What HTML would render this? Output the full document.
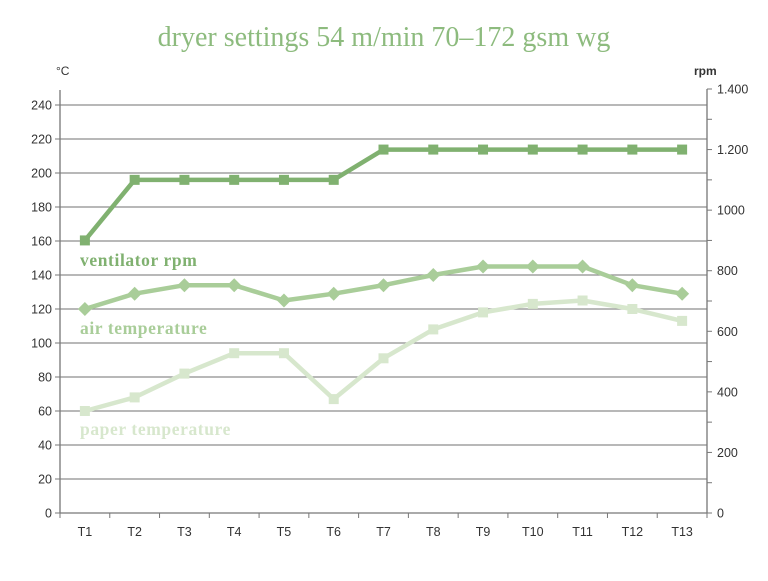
<!DOCTYPE html>
<html><head><meta charset="utf-8"><style>
body{margin:0;background:#fff;width:768px;height:576px;overflow:hidden}
svg text{font-family:"Liberation Sans",sans-serif}
</style></head><body>
<svg id="c" width="768" height="576">
<text x="384" y="46" text-anchor="middle" font-size="28" letter-spacing="0" fill="#8dbb7e" style="font-family:'Liberation Serif',serif">dryer settings 54 m/min 70–172 gsm wg</text>
<text x="56" y="75" font-size="12" fill="#333">°C</text>
<text x="694" y="75" font-size="12" font-weight="bold" fill="#333">rpm</text>
<g id="g"></g>
</svg>
<script>
const categories=["T1","T2","T3","T4","T5","T6","T7","T8","T9","T10","T11","T12","T13"];
const ventilatorRpm=[900,1100,1100,1100,1100,1100,1200,1200,1200,1200,1200,1200,1200];
const airTemp=[120,129,134,134,125,129,134,140,145,145,145,134,129];
const paperTemp=[60,68,82,94,94,67,91,108,118,123,125,120,113];
const leftTicks=[0,20,40,60,80,100,120,140,160,180,200,220,240];
const rightTicks=[0,200,400,600,800,1000,1200,1400];
const rightTickLabels=["0","200","400","600","800","1000","1.200","1.400"];
const NS="http://www.w3.org/2000/svg",g=document.getElementById('g');
const X0=60,X1=707,Y0=513;
const yL=v=>Y0-v*1.7, yR=v=>Y0-v*(424/1400);
const bw=(X1-X0)/categories.length, xC=i=>X0+bw*(i+0.5);
function mk(t,a,p){const e=document.createElementNS(NS,t);for(const k in a)e.setAttribute(k,a[k]);(p||g).appendChild(e);return e;}
leftTicks.forEach(v=>{
 if(v>0){const l=mk('line',{x1:X0,x2:X1,y1:yL(v),y2:yL(v),stroke:'#8e8e8e','stroke-width':1.3});
 
 }
 mk('line',{x1:X0-5,x2:X0,y1:yL(v),y2:yL(v),stroke:'#777'});
 const t=mk('text',{x:X0-8,y:yL(v)+4.5,'text-anchor':'end','font-size':12.5,fill:'#333'});t.textContent=v;
 
 
});
for(let v=0;v<=1400;v+=100){mk('line',{x1:X1,x2:X1+5,y1:yR(v),y2:yR(v),stroke:'#777'});}
rightTicks.forEach((v,i)=>{const t=mk('text',{x:X1+10,y:yR(v)+4.5,'font-size':12.5,fill:'#333'});t.textContent=rightTickLabels[i];
 
 });
mk('line',{x1:X0,x2:X0,y1:90,y2:Y0,stroke:'#777','stroke-width':1.3});
mk('line',{x1:X1,x2:X1,y1:89,y2:Y0,stroke:'#777','stroke-width':1.3});
mk('line',{x1:X0,x2:X1,y1:Y0,y2:Y0,stroke:'#777','stroke-width':1.3});
for(let i=0;i<=categories.length;i++)mk('line',{x1:X0+bw*i,x2:X0+bw*i,y1:Y0,y2:Y0+5,stroke:'#777'});
categories.forEach((c,i)=>{const t=mk('text',{x:xC(i),y:Y0+23,'text-anchor':'middle','font-size':12.5,fill:'#333'});t.textContent=c;
 
 });
function series(vals,yf,color,marker,name){
 const pts=vals.map((v,i)=>[xC(i),yf(v)]);
 const p=mk('polyline',{points:pts.map(p=>p.join(',')).join(' '),fill:'none',stroke:color,'stroke-width':4.5,'stroke-linejoin':'round'});
 
 
 pts.forEach(([x,y])=>{let m;
  if(marker==='sq')m=mk('rect',{x:x-5,y:y-5,width:10,height:10,fill:color});
  else m=mk('polygon',{points:`${x},${y-7} ${x+7},${y} ${x},${y+7} ${x-7},${y}`,fill:color});
  
  });
}
series(paperTemp,yL,'#d7e7cd','sq','paper-temperature');
series(airTemp,yL,'#a9cd99','dia','air-temperature');
series(ventilatorRpm,yR,'#80b170','sq','ventilator-rpm');
[['ventilator rpm',266,'#80b170'],['air temperature',334,'#a9cd99'],['paper temperature',435,'#d7e7cd']].forEach(([s,y,c])=>{
 const t=mk('text',{x:80,y:y,'font-size':17.5,'font-weight':'bold','letter-spacing':0.6,fill:c,style:"font-family:'Liberation Serif',serif"});t.textContent=s;
 
 });
</script>
</body></html>
